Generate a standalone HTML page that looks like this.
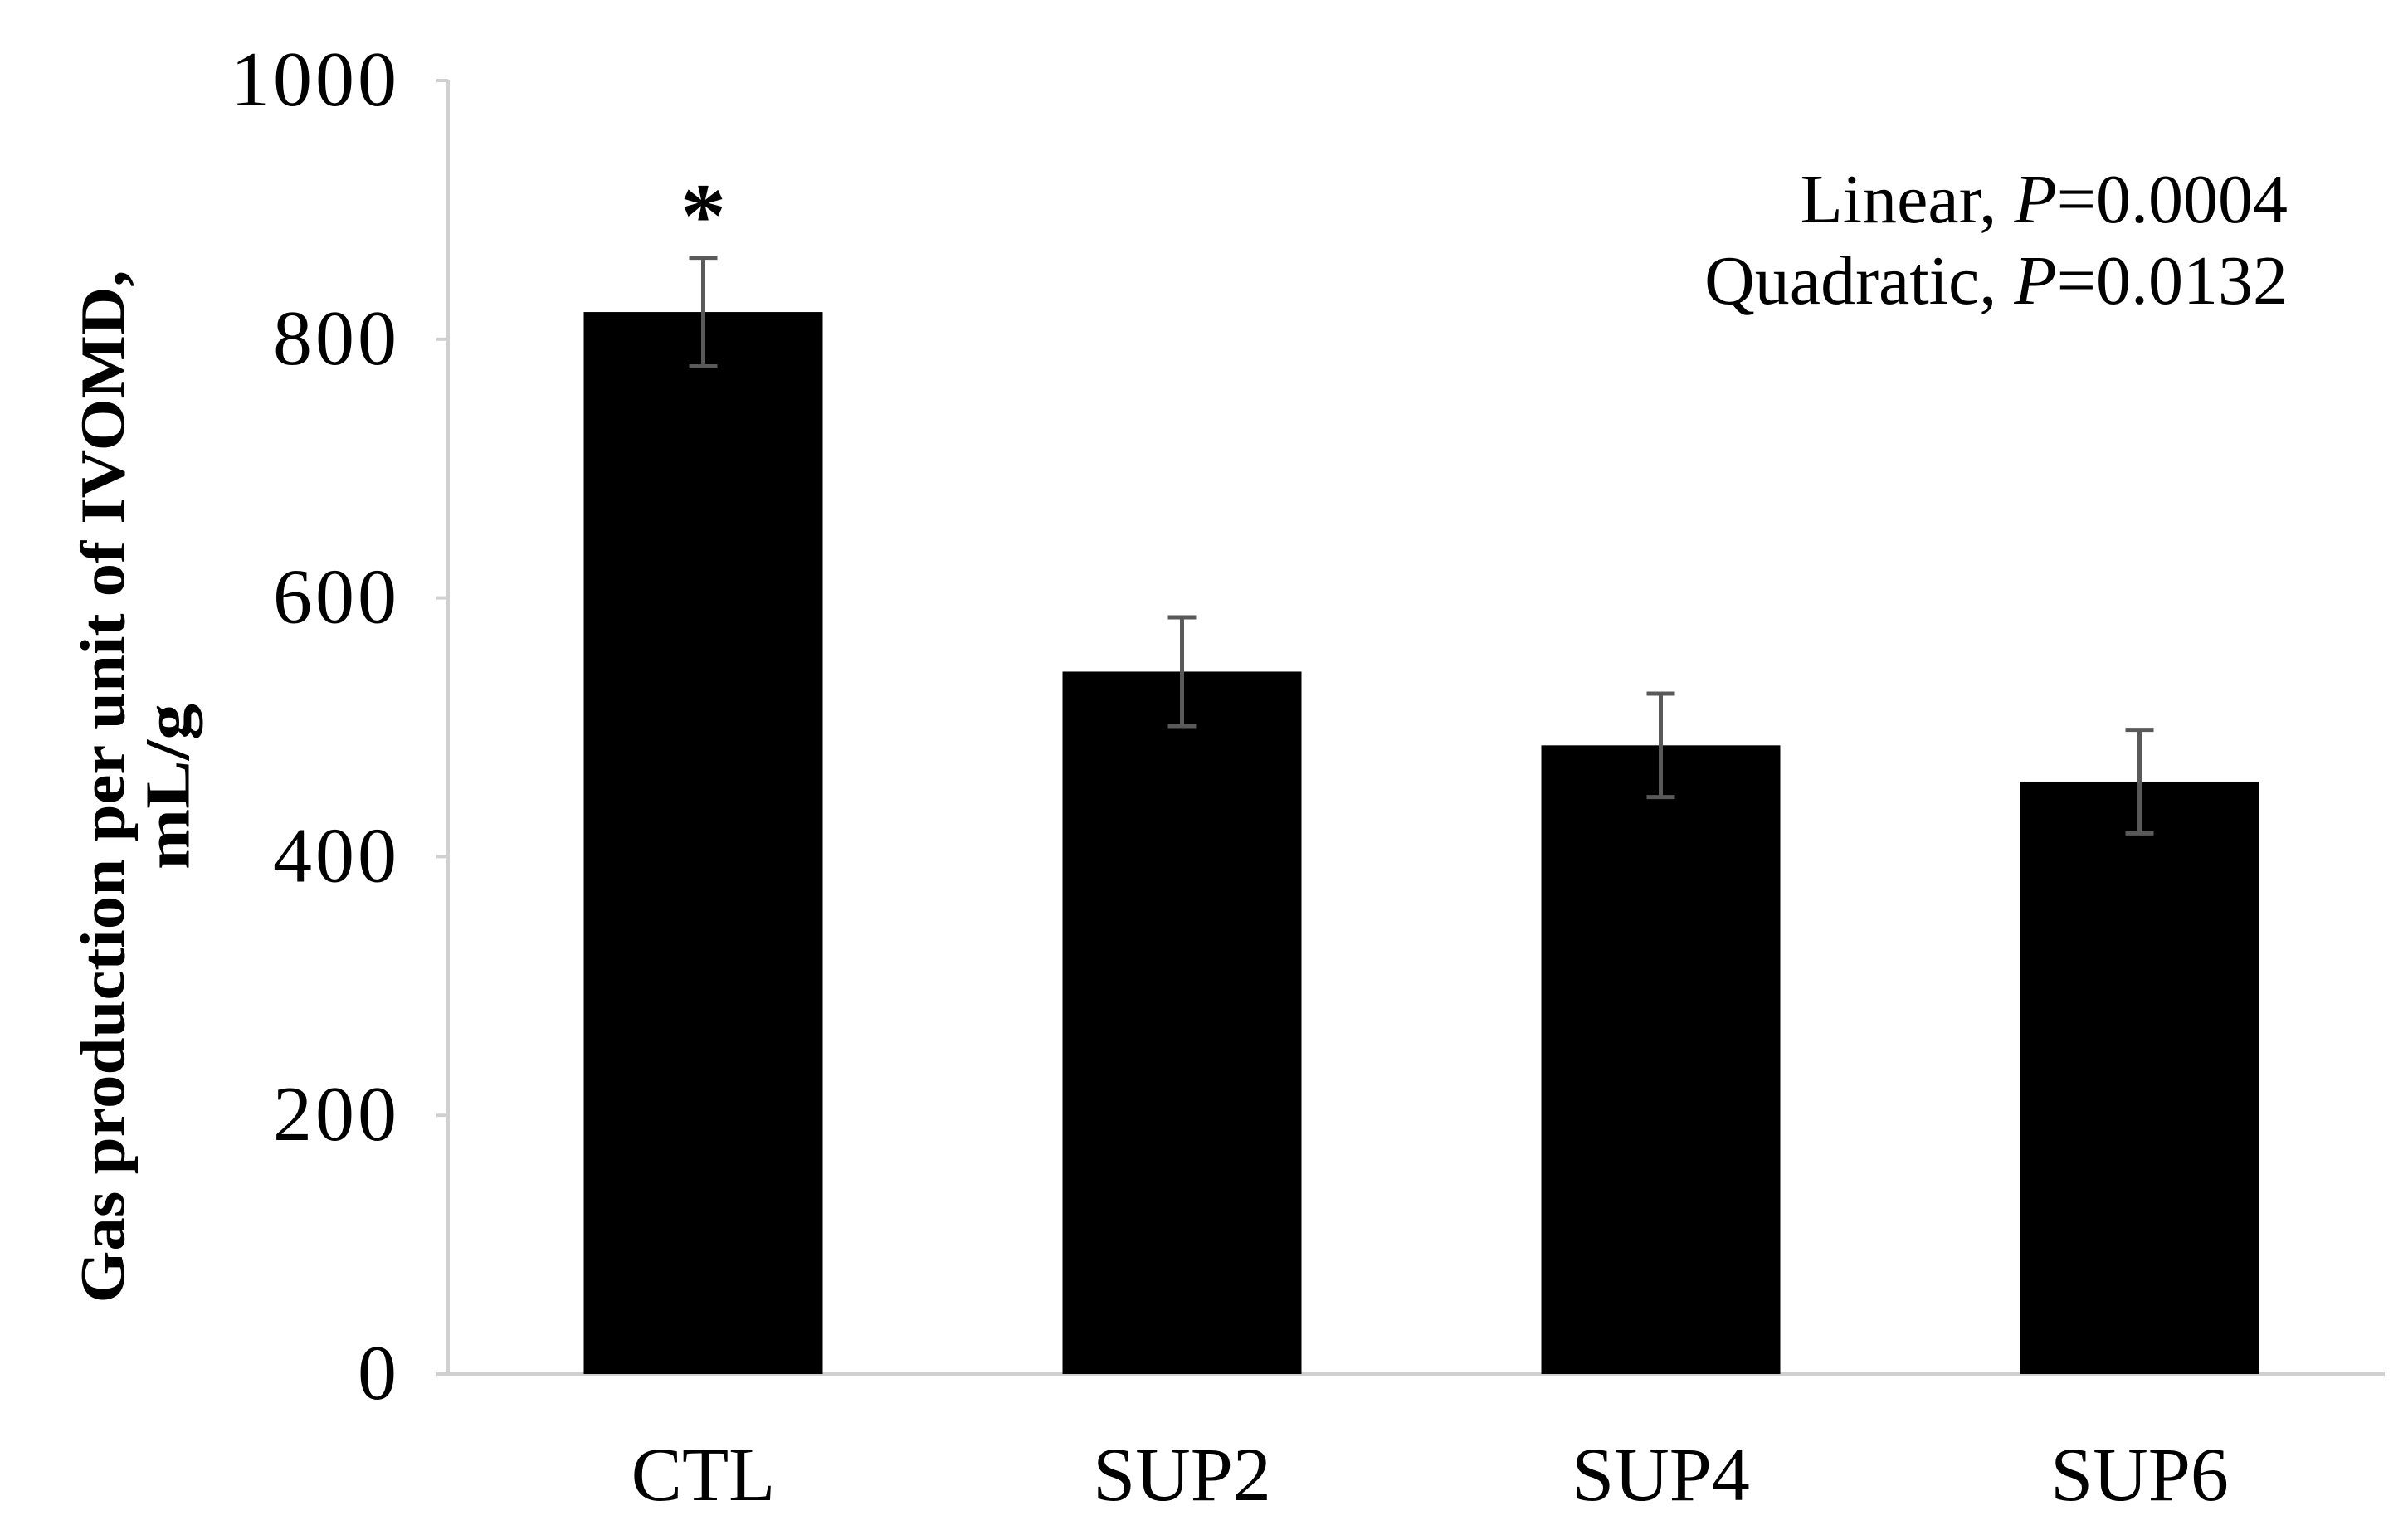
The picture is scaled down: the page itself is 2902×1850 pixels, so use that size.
<!DOCTYPE html>
<html><head><meta charset="utf-8"><style>
html,body{margin:0;padding:0;background:#fff;}
svg{display:block;}
</style></head><body>
<svg id="chart" width="2902" height="1850" viewBox="0 0 2902 1850" xmlns="http://www.w3.org/2000/svg" font-family="'Liberation Serif', serif">
<g id="axes"></g>
<g id="bars"></g>
<text transform="translate(132,948) rotate(-90)" text-anchor="middle" dominant-baseline="middle" font-weight="bold" font-size="76" textLength="1245" lengthAdjust="spacingAndGlyphs">Gas production per unit of IVOMD,</text>
<text transform="translate(210,948) rotate(-90)" text-anchor="middle" dominant-baseline="middle" font-weight="bold" font-size="76" textLength="200" lengthAdjust="spacingAndGlyphs">mL/g</text>
<text x="2757" y="268" text-anchor="end" font-size="84">Linear, <tspan font-style="italic">P</tspan>=0.0004</text>
<text x="2757" y="366" text-anchor="end" font-size="84">Quadratic, <tspan font-style="italic">P</tspan>=0.0132</text>
</svg>
<script>
const categories = ["CTL","SUP2","SUP4","SUP6"];
const values = [821, 543, 486, 458];
const errors = [42, 42, 40, 40];
const yTicks = [0,200,400,600,800,1000];
const significance = ["*","","",""];

const NS="http://www.w3.org/2000/svg";
const x0=540, x1=2874, catStart=559, yBase=1656, yTop=97, yMax=1000;
const catW=577, barW=288;
function yScale(v){return yBase-(v/yMax)*(yBase-yTop);}
function xCenter(i){return catStart+catW*(i+0.5);}
function mk(tag,attrs,parent){const e=document.createElementNS(NS,tag);for(const k in attrs)e.setAttribute(k,attrs[k]);parent.appendChild(e);return e;}
const axes=document.getElementById('axes'), bars=document.getElementById('bars');

let yl=mk('line',{x1:x0,y1:yTop,x2:x0,y2:yBase,stroke:'#d0d0d0','stroke-width':4},axes);


yTicks.forEach(t=>{
  const y=yScale(t);
  const tk=mk('line',{x1:x0-14,y1:y,x2:x0,y2:y,stroke:'#d0d0d0','stroke-width':4},axes);
  
  
  const lb=mk('text',{x:x0-58,y:y+30,'text-anchor':'end','font-size':94,'letter-spacing':4},axes);
  lb.textContent=t;
  
  
});
categories.forEach((c,i)=>{
  const cx=xCenter(i), top=yScale(values[i]);
  const r=mk('rect',{x:cx-barW/2,y:top,width:barW,height:yBase-top,fill:'#000'},bars);
  
  
  const eh=yScale(values[i]+errors[i]), el=yScale(values[i]-errors[i]);
  const g=mk('g',{stroke:'#595959','stroke-width':5},bars);
  
  
  mk('line',{x1:cx,y1:eh,x2:cx,y2:el},g);
  mk('line',{x1:cx-17,y1:eh,x2:cx+17,y2:eh},g);
  mk('line',{x1:cx-17,y1:el,x2:cx+17,y2:el},g);
  const lb=mk('text',{x:cx,y:1808,'text-anchor':'middle','font-size':92},axes);
  lb.textContent=c;
  
  
  if(significance[i]){
    const s=mk('text',{x:cx,y:eh-14,'text-anchor':'middle','font-size':110,'font-weight':'bold'},bars);
    s.textContent=significance[i];
    
    
  }
});
let xl=mk('line',{x1:x0,y1:yBase,x2:x1,y2:yBase,stroke:'#d0d0d0','stroke-width':4},axes);


</script>
</body></html>
